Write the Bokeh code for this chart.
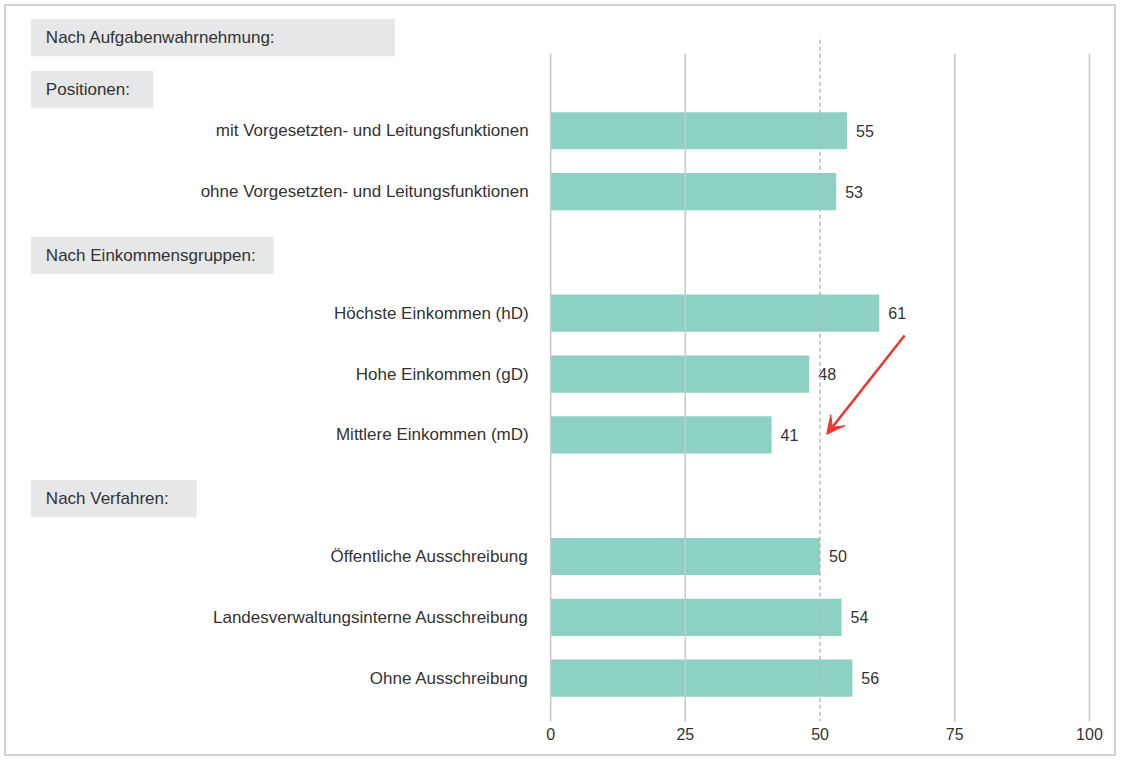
from bokeh.plotting import figure
from bokeh.models import Range1d, FixedTicker, Arrow, VeeHead, InlineStyleSheet
from bokeh.core.properties import value
from bokeh.embed import file_html
from bokeh.resources import INLINE

# ---------------- data ----------------
main_header = "Nach Aufgabenwahrnehmung:"
group_headers = ["Positionen:", "Nach Einkommensgruppen:", "Nach Verfahren:"]
position_labels = ["mit Vorgesetzten- und Leitungsfunktionen",
                   "ohne Vorgesetzten- und Leitungsfunktionen"]
position_values = [55, 53]
income_labels = ["Höchste Einkommen (hD)", "Hohe Einkommen (gD)",
                 "Mittlere Einkommen (mD)"]
income_values = [61, 48, 41]
procedure_labels = ["Öffentliche Ausschreibung",
                    "Landesverwaltungsinterne Ausschreibung",
                    "Ohne Ausschreibung"]
procedure_values = [50, 54, 56]
x_ticks = [0, 25, 50, 75, 100]
reference_value = 50

# ---------------- layout ----------------
FONT = "Liberation Sans"
TXT = "#333333"
BAR = "#8dd1c5"
BOXC = "#e6e7e8"
GRIDC = "#c9c9c9"
RED = "#e8392f"

# design space (reference pixels) and actual figure size
REF_W, REF_H = 1136, 776
FIG_W, FIG_H = 1120, 760
SY_ = FIG_H / REF_H
X0_PX, X100_PX = 558, 1104.5
ROW0_PX, ROW_STEP = 133, 62.1
FRAME_BOTTOM = round(736 * SY_)
ppu = (X100_PX - X0_PX) / 100.0


def dx(px):
    return (px - X0_PX) / ppu


def sy(py):
    return (py - ROW0_PX) / ROW_STEP


groups = [(position_labels, position_values),
          (income_labels, income_values),
          (procedure_labels, procedure_values)]
row_slots, row_labels, row_values, header_slots = [], [], [], []
slot = 0
for gi, (labs, vals) in enumerate(groups):
    if gi == 0:
        header_slots.append(sy(91))
    else:
        header_slots.append(slot + 0.05)
        slot += 1
    for lab, v in zip(labs, vals):
        row_slots.append(slot)
        row_labels.append(lab)
        row_values.append(v)
        slot += 1

p = figure(width=FIG_W, height=FIG_H,
           x_range=Range1d(dx(0), dx(REF_W)),
           y_range=Range1d(sy(FRAME_BOTTOM / SY_), sy(0)),
           output_backend="svg", toolbar_location=None,
           y_axis_location=None,
           min_border_left=0, min_border_right=0, min_border_top=0,
           min_border_bottom=FIG_H - FRAME_BOTTOM)
p.grid.visible = False
p.outline_line_color = None
# transparent canvas so that the host's inset frame line shows through
p.background_fill_color = None
p.border_fill_color = None
frame_css = "inset 0 0 0 4px #ffffff, inset 0 0 0 6px #d3d3d3"
p.styles = {"box-shadow": frame_css, "background-color": "#ffffff"}
p.stylesheets = [InlineStyleSheet(
    css=":host { box-shadow: %s; background-color: #ffffff; }" % frame_css)]

ax = p.xaxis[0]
ax.ticker = FixedTicker(ticks=x_ticks)
ax.axis_line_color = None
ax.major_tick_line_color = None
ax.minor_tick_line_color = None
ax.major_tick_in = 0
ax.major_tick_out = 0
ax.major_label_standoff = 6
ax.major_label_text_font = FONT
ax.major_label_text_font_size = "16px"
ax.major_label_text_color = TXT

# header boxes
box_h = 38 / ROW_STEP
all_headers = [main_header] + group_headers
all_header_slots = [sy(38)] + header_slots
box_right_px = [400, 155, 277, 199]
p.quad(left=[dx(31)] * 4, right=[dx(r) for r in box_right_px],
       top=[s - box_h / 2 for s in all_header_slots],
       bottom=[s + box_h / 2 for s in all_header_slots],
       fill_color=BOXC, line_color=None)
p.text(x=[dx(46)] * 4, y=all_header_slots, text=all_headers,
       text_font=value(FONT), text_font_size="17px", text_color=TXT,
       text_baseline="middle", text_align="left")

# bars
p.hbar(y=row_slots, left=0, right=row_values, height=38 / ROW_STEP,
       fill_color=BAR, line_color=None)

# category labels
p.text(x=[0] * len(row_slots), y=row_slots, text=row_labels, x_offset=-22,
       text_font=value(FONT), text_font_size="17px", text_color=TXT,
       text_baseline="middle", text_align="right")

# value labels
p.text(x=row_values, y=row_slots, text=[str(v) for v in row_values],
       x_offset=9, text_font=value(FONT), text_font_size="16px",
       text_color=TXT, text_baseline="middle", text_align="left")

# grid lines (drawn above bars)
solid = [t for t in x_ticks if t != reference_value]
p.segment(x0=solid, x1=solid, y0=[sy(54)] * len(solid),
          y1=[sy(FRAME_BOTTOM / SY_)] * len(solid),
          line_color=GRIDC, line_width=1.6)
p.segment(x0=[reference_value], x1=[reference_value], y0=[sy(40)],
          y1=[sy(FRAME_BOTTOM / SY_)], line_color="#b5b5b5", line_width=1.4,
          line_dash="4 3")

# red arrow
p.add_layout(Arrow(end=VeeHead(size=18, fill_color=RED, line_color=RED),
                   x_start=dx(917), y_start=sy(342),
                   x_end=dx(838), y_end=sy(443),
                   line_color=RED, line_width=2.5))

open("out.html", "w").write(file_html(p, INLINE))
